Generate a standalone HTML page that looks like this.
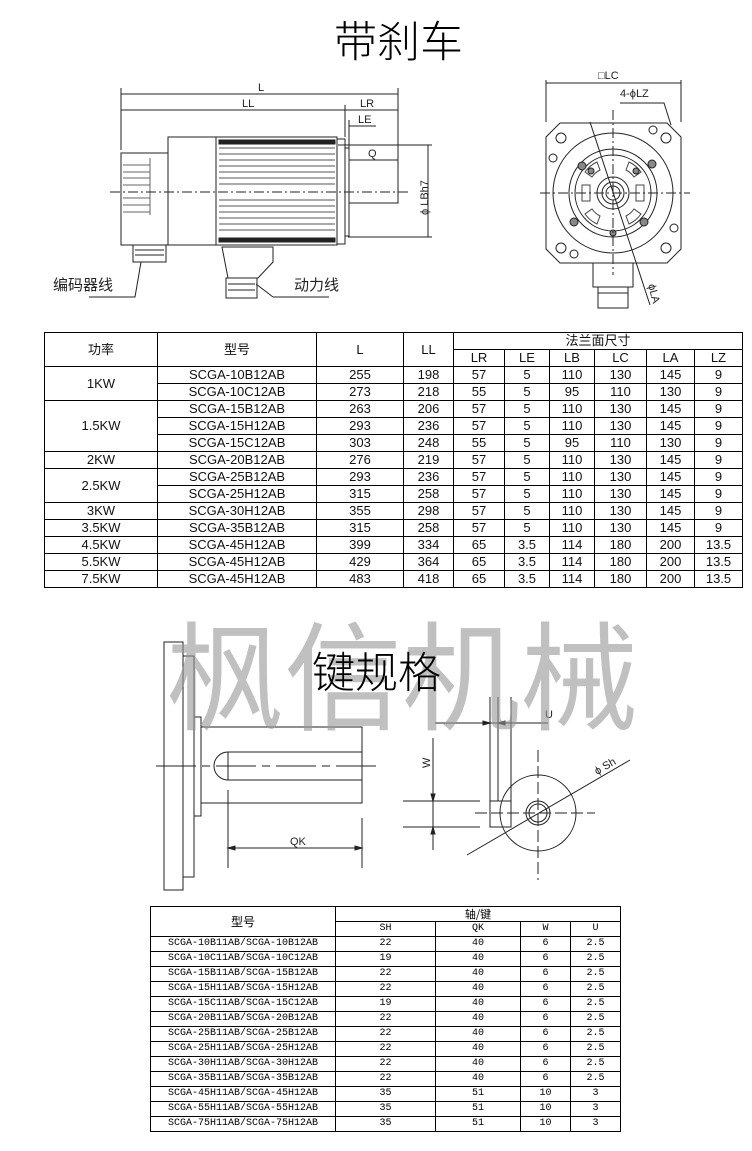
<!DOCTYPE html>
<html><head><meta charset="utf-8"><style>
body{margin:0;width:752px;height:1151px;background:#fff;position:relative;overflow:hidden;font-family:"Liberation Sans","Noto Sans CJK SC",sans-serif;}
.abs{position:absolute}
table{border-collapse:collapse;table-layout:fixed;position:absolute}
td{border:1px solid #000;text-align:center;padding:0;overflow:hidden;white-space:nowrap}
#t1{left:44px;top:332px;font-size:13px;color:#111}
#t1 td{height:16px;line-height:16px}
#t2{left:150px;top:906px;font-size:10px;font-family:"Liberation Mono","Noto Serif CJK SC",monospace}
#t2 td{height:14px;line-height:14px}
</style></head><body>
<div class="abs" style="left:334px;top:18px;font-size:43px;font-weight:300;line-height:50px">带刹车</div>

<svg class="abs" style="left:0;top:0" width="752" height="320" viewBox="0 0 752 320" fill="none" stroke="#222" stroke-width="1">
<line x1="121" y1="94" x2="398" y2="94"/><line x1="121" y1="110" x2="345" y2="110"/><line x1="345" y1="110" x2="398" y2="110"/>
<line x1="121" y1="88" x2="121" y2="150"/><line x1="398" y1="88" x2="398" y2="160"/><line x1="345" y1="105" x2="345" y2="137"/>
<line x1="349" y1="126" x2="376" y2="126"/><line x1="349" y1="120" x2="349" y2="160"/>
<line x1="349" y1="160" x2="398" y2="160"/>
<g fill="#222" stroke="none" font-size="11" font-family="Liberation Sans">
<text x="258" y="91">L</text><text x="242" y="107">LL</text><text x="360" y="107">LR</text><text x="358" y="123">LE</text><text x="368" y="157">Q</text>
<text transform="translate(428,215) rotate(-90)">ϕ LBh7</text>
<text x="53" y="290" font-size="15" font-family="Noto Sans CJK SC">编码器线</text>
<text x="294" y="290" font-size="15" font-family="Noto Sans CJK SC">动力线</text>
</g>
<line x1="338" y1="145" x2="432" y2="145"/><line x1="348" y1="237" x2="432" y2="237"/><line x1="428" y1="145" x2="428" y2="237"/>
<rect x="121" y="153" width="47" height="92"/>
<g stroke="#666"><line x1="123" y1="165" x2="150" y2="165"/><line x1="123" y1="172" x2="150" y2="172"/><line x1="123" y1="178" x2="150" y2="178"/><line x1="123" y1="185" x2="150" y2="185"/><line x1="123" y1="198" x2="150" y2="198"/><line x1="123" y1="205" x2="150" y2="205"/><line x1="123" y1="212" x2="150" y2="212"/><line x1="150" y1="158" x2="150" y2="215"/></g>
<rect x="168" y="137" width="48" height="108"/>
<rect x="216" y="137" width="121" height="108"/>
<g stroke="#555">
<line x1="219" y1="148" x2="335" y2="148"/><line x1="219" y1="154" x2="335" y2="154"/><line x1="219" y1="160" x2="335" y2="160"/><line x1="219" y1="166" x2="335" y2="166"/><line x1="219" y1="172" x2="335" y2="172"/><line x1="219" y1="178" x2="335" y2="178"/><line x1="219" y1="184" x2="335" y2="184"/><line x1="219" y1="200" x2="335" y2="200"/><line x1="219" y1="206" x2="335" y2="206"/><line x1="219" y1="212" x2="335" y2="212"/><line x1="219" y1="218" x2="335" y2="218"/><line x1="219" y1="224" x2="335" y2="224"/><line x1="219" y1="230" x2="335" y2="230"/>
</g>
<rect x="219" y="140" width="116" height="4" fill="#222"/><rect x="219" y="238" width="116" height="4" fill="#222"/>
<rect x="337" y="139" width="8" height="105"/>
<rect x="349" y="160" width="49" height="43"/><line x1="345" y1="148" x2="349" y2="148"/><line x1="345" y1="236" x2="349" y2="236"/><line x1="349" y1="145" x2="349" y2="237"/>
<line x1="110" y1="192" x2="410" y2="192" stroke-dasharray="10 3 2 3"/>
<rect x="133" y="245" width="33" height="17"/><line x1="135" y1="250" x2="164" y2="250"/><line x1="135" y1="255" x2="164" y2="255"/>
<path d="M222 247 H273 V262 L258 278 H228 Z M226 278 h31 v20 h-31 Z"/><line x1="228" y1="284" x2="255" y2="284"/><line x1="228" y1="290" x2="255" y2="290"/>
<path d="M89 297 H135 L141 262"/><path d="M273 297 H329 M273 297 L256 284"/>
<line x1="546" y1="83" x2="681" y2="83"/><line x1="546" y1="80" x2="546" y2="122"/><line x1="681" y1="80" x2="681" y2="122"/>
<g fill="#222" stroke="none" font-size="11" font-family="Liberation Sans"><text x="598" y="79">□LC</text><text x="620" y="97">4-ϕLZ</text>
<text transform="translate(648,285) rotate(75)">ϕLA</text></g>
<path d="M620 103 H664 L671 125"/>
<path d="M560 123 H667 L681 137 V249 L667 263 H560 L546 249 V137 Z"/>
<circle cx="613" cy="193" r="60"/><circle cx="613" cy="193" r="44"/><circle cx="613" cy="193" r="38"/>
<circle cx="613" cy="193" r="16"/><circle cx="613" cy="193" r="11"/><circle cx="613" cy="193" r="7"/>
<g stroke="#444"><path d="M585 172 a30 30 0 0 1 12 -10 l3 8 a22 22 0 0 0 -8 7z"/><path d="M641 172 a30 30 0 0 0 -12 -10 l-3 8 a22 22 0 0 1 8 7z"/><path d="M585 214 a30 30 0 0 0 12 10 l3 -8 a22 22 0 0 1 -8 -7z"/><path d="M641 214 a30 30 0 0 1 -12 10 l-3 -8 a22 22 0 0 0 8 -7z"/><path d="M582 185 v16 h8 v-16z"/><path d="M636 185 v16 h8 v-16z"/></g>
<g fill="#888"><circle cx="652" cy="164" r="4"/><circle cx="574" cy="222" r="4"/><circle cx="582" cy="166" r="4"/><circle cx="644" cy="222" r="4"/><circle cx="591" cy="171" r="3"/><circle cx="636" cy="171" r="3"/><circle cx="613" cy="233" r="3"/></g>
<g><circle cx="561" cy="138" r="5"/><circle cx="666" cy="138" r="5"/><circle cx="561" cy="248" r="5"/><circle cx="666" cy="248" r="5"/>
<circle cx="553" cy="158" r="4"/><circle cx="674" cy="228" r="4"/><circle cx="574" cy="254" r="4"/><circle cx="653" cy="130" r="4"/></g>
<line x1="613" y1="110" x2="613" y2="275" stroke-dasharray="10 3 2 3"/><line x1="540" y1="193" x2="690" y2="193" stroke-dasharray="10 3 2 3"/>
<line x1="590" y1="122" x2="650" y2="305"/>
<rect x="593" y="263" width="40" height="24"/><rect x="598" y="287" width="30" height="21"/><line x1="598" y1="293" x2="628" y2="293"/>
</svg>

<table id="t1">
<colgroup><col style="width:113px"><col style="width:159px"><col style="width:87px"><col style="width:50px"><col style="width:51px"><col style="width:45px"><col style="width:45px"><col style="width:52px"><col style="width:48px"><col style="width:48px"></colgroup>
<tr><td rowspan="2">功率</td><td rowspan="2">型号</td><td rowspan="2">L</td><td rowspan="2">LL</td><td colspan="6">法兰面尺寸</td></tr>
<tr><td>LR</td><td>LE</td><td>LB</td><td>LC</td><td>LA</td><td>LZ</td></tr>
<tr><td rowspan="2">1KW</td><td>SCGA-10B12AB</td><td>255</td><td>198</td><td>57</td><td>5</td><td>110</td><td>130</td><td>145</td><td>9</td></tr>
<tr><td>SCGA-10C12AB</td><td>273</td><td>218</td><td>55</td><td>5</td><td>95</td><td>110</td><td>130</td><td>9</td></tr>
<tr><td rowspan="3">1.5KW</td><td>SCGA-15B12AB</td><td>263</td><td>206</td><td>57</td><td>5</td><td>110</td><td>130</td><td>145</td><td>9</td></tr>
<tr><td>SCGA-15H12AB</td><td>293</td><td>236</td><td>57</td><td>5</td><td>110</td><td>130</td><td>145</td><td>9</td></tr>
<tr><td>SCGA-15C12AB</td><td>303</td><td>248</td><td>55</td><td>5</td><td>95</td><td>110</td><td>130</td><td>9</td></tr>
<tr><td>2KW</td><td>SCGA-20B12AB</td><td>276</td><td>219</td><td>57</td><td>5</td><td>110</td><td>130</td><td>145</td><td>9</td></tr>
<tr><td rowspan="2">2.5KW</td><td>SCGA-25B12AB</td><td>293</td><td>236</td><td>57</td><td>5</td><td>110</td><td>130</td><td>145</td><td>9</td></tr>
<tr><td>SCGA-25H12AB</td><td>315</td><td>258</td><td>57</td><td>5</td><td>110</td><td>130</td><td>145</td><td>9</td></tr>
<tr><td>3KW</td><td>SCGA-30H12AB</td><td>355</td><td>298</td><td>57</td><td>5</td><td>110</td><td>130</td><td>145</td><td>9</td></tr>
<tr><td>3.5KW</td><td>SCGA-35B12AB</td><td>315</td><td>258</td><td>57</td><td>5</td><td>110</td><td>130</td><td>145</td><td>9</td></tr>
<tr><td>4.5KW</td><td>SCGA-45H12AB</td><td>399</td><td>334</td><td>65</td><td>3.5</td><td>114</td><td>180</td><td>200</td><td>13.5</td></tr>
<tr><td>5.5KW</td><td>SCGA-45H12AB</td><td>429</td><td>364</td><td>65</td><td>3.5</td><td>114</td><td>180</td><td>200</td><td>13.5</td></tr>
<tr><td>7.5KW</td><td>SCGA-45H12AB</td><td>483</td><td>418</td><td>65</td><td>3.5</td><td>114</td><td>180</td><td>200</td><td>13.5</td></tr>
</table>

<svg class="abs" style="left:0;top:600px" width="752" height="300" viewBox="0 600 752 300" fill="none" stroke="#222" stroke-width="1">
<rect x="164" y="642" width="19" height="248"/><rect x="183" y="656" width="11" height="221"/><rect x="194" y="717" width="7" height="99"/>
<rect x="201" y="727" width="161" height="76"/>
<path d="M228 752 H362 M228 780 H362 M228 752 A14 14 0 0 0 228 780 Z"/>
<line x1="156" y1="766" x2="378" y2="766" stroke-dasharray="40 6 8 6"/>
<line x1="228" y1="790" x2="228" y2="868"/><line x1="362" y1="818" x2="362" y2="868"/><line x1="228" y1="848" x2="362" y2="848"/>
<path d="M228 848 l7 -2 v4z M362 848 l-7 -2 v4z" fill="#222"/>
<circle cx="538" cy="813" r="38"/><circle cx="538" cy="813" r="12"/><circle cx="538" cy="813" r="9"/>
<line x1="538" y1="750" x2="538" y2="880" stroke-dasharray="12 4"/><line x1="475" y1="813" x2="595" y2="813" stroke-dasharray="12 4"/>
<rect x="490" y="801" width="21" height="26"/><line x1="490" y1="697" x2="490" y2="801"/><line x1="498" y1="697" x2="498" y2="801"/><line x1="511" y1="697" x2="511" y2="801"/>
<line x1="435" y1="723" x2="548" y2="723"/><path d="M490 723 l-7 -2 v4z M498 723 l7 -2 v4z" fill="#222"/>
<line x1="433" y1="738" x2="433" y2="850"/><line x1="403" y1="801" x2="480" y2="801"/><line x1="403" y1="827" x2="480" y2="827"/>
<path d="M433 801 l-2 -7 h4z M433 827 l-2 7 h4z" fill="#222"/>
<line x1="467" y1="855" x2="630" y2="760"/>
<g fill="#222" stroke="none" font-size="11" font-family="Liberation Sans"><text x="290" y="845">QK</text><text x="545" y="718">U</text>
<text transform="translate(430,768) rotate(-90)">W</text><text transform="translate(597,775) rotate(-30)">ϕ Sh</text></g>
</svg>

<div class="abs" style="left:166px;top:580px;font-size:118px;line-height:180px;color:rgba(150,150,150,0.6);font-family:'Noto Sans CJK SC',sans-serif;white-space:nowrap;letter-spacing:0px">枫信机械</div>
<div class="abs" style="left:312px;top:648px;font-size:43px;font-weight:300;line-height:52px">键规格</div>

<table id="t2">
<colgroup><col style="width:185px"><col style="width:100px"><col style="width:85px"><col style="width:50px"><col style="width:50px"></colgroup>
<tr><td rowspan="2" style="font-family:'Noto Sans CJK SC',sans-serif;font-size:12px">型号</td><td colspan="4" style="font-family:'Noto Sans CJK SC',sans-serif;font-size:11px">轴/键</td></tr>
<tr><td>SH</td><td>QK</td><td>W</td><td>U</td></tr>
<tr><td>SCGA-10B11AB/SCGA-10B12AB</td><td>22</td><td>40</td><td>6</td><td>2.5</td></tr>
<tr><td>SCGA-10C11AB/SCGA-10C12AB</td><td>19</td><td>40</td><td>6</td><td>2.5</td></tr>
<tr><td>SCGA-15B11AB/SCGA-15B12AB</td><td>22</td><td>40</td><td>6</td><td>2.5</td></tr>
<tr><td>SCGA-15H11AB/SCGA-15H12AB</td><td>22</td><td>40</td><td>6</td><td>2.5</td></tr>
<tr><td>SCGA-15C11AB/SCGA-15C12AB</td><td>19</td><td>40</td><td>6</td><td>2.5</td></tr>
<tr><td>SCGA-20B11AB/SCGA-20B12AB</td><td>22</td><td>40</td><td>6</td><td>2.5</td></tr>
<tr><td>SCGA-25B11AB/SCGA-25B12AB</td><td>22</td><td>40</td><td>6</td><td>2.5</td></tr>
<tr><td>SCGA-25H11AB/SCGA-25H12AB</td><td>22</td><td>40</td><td>6</td><td>2.5</td></tr>
<tr><td>SCGA-30H11AB/SCGA-30H12AB</td><td>22</td><td>40</td><td>6</td><td>2.5</td></tr>
<tr><td>SCGA-35B11AB/SCGA-35B12AB</td><td>22</td><td>40</td><td>6</td><td>2.5</td></tr>
<tr><td>SCGA-45H11AB/SCGA-45H12AB</td><td>35</td><td>51</td><td>10</td><td>3</td></tr>
<tr><td>SCGA-55H11AB/SCGA-55H12AB</td><td>35</td><td>51</td><td>10</td><td>3</td></tr>
<tr><td>SCGA-75H11AB/SCGA-75H12AB</td><td>35</td><td>51</td><td>10</td><td>3</td></tr>
</table>
</body></html>
